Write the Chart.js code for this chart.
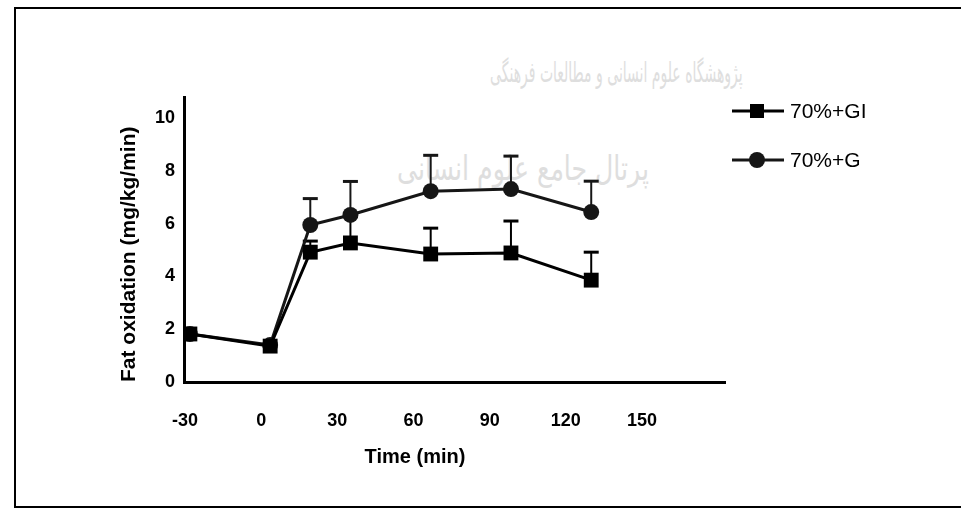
<!DOCTYPE html>
<html lang="en">
<head>
  <meta charset="UTF-8">
  <title>Fat oxidation - 70%+GI vs 70%+G</title>
  <script src="https://cdn.jsdelivr.net/npm/chart.js"></script>
  <style>
    body {
      margin: 0;
      background: #fff;
      font-family: "Liberation Sans", Arial, sans-serif;
    }
    .page {
      position: relative;
      width: 961px;
      height: 511px;
      overflow: hidden;
    }
    .frame {
      position: absolute;
      left: 14px;
      top: 7px;
      width: 960px;
      height: 497px;
      border-left: 2px solid #000;
      border-top: 2px solid #000;
      border-bottom: 2px solid #000;
    }
    .mark {
      position: absolute;
      font-family: "DejaVu Sans", sans-serif;
      color: #dedede;
      direction: rtl;
      white-space: nowrap;
      transform-origin: left top;
    }
    .xtitle {
      position: absolute;
      left: 315px;
      width: 200px;
      top: 445px;
      text-align: center;
      font-weight: bold;
      font-size: 20px;
      color: #000;
    }
    canvas {
      position: absolute;
      left: 0;
      top: 0;
    }
  </style>
</head>
<body>
  <div class="page">
    <div class="frame"></div>
    <div class="mark" style="left:490px; top:56px; font-size:28px; transform:scaleX(0.5);">پژوهشگاه علوم انسانی و مطالعات فرهنگی</div>
    <div class="mark" style="left:397px; top:148px; font-size:34px; transform:scaleX(0.74);">پرتال جامع علوم انسانی</div>
    <canvas id="fatChart" width="961" height="511"></canvas>
    <div class="xtitle">Time (min)</div>
  </div>

  <script>
    // values
    const timeMin = [-30, 0, 15, 30, 60, 90, 120];
    const giMean = [1.82, 1.36, 4.92, 5.27, 4.85, 4.89, 3.86];
    const giErr = [0, 0, 0.42, 1.0, 0.98, 1.21, 1.06];
    const gMean = [1.82, 1.40, 5.95, 6.33, 7.23, 7.31, 6.44];
    const gErr = [0, 0, 1.0, 1.27, 1.36, 1.25, 1.17];
    const xTicks = [-30, 0, 30, 60, 90, 120, 150];
    const yTicks = [0, 2, 4, 6, 8, 10];
    const seriesNames = ['70%+GI', '70%+G'];

    // upper error bars only, drawn under the markers
    const errorBars = {
      id: 'errorBars',
      beforeDatasetsDraw(chart) {
        const ctx = chart.ctx;
        const xs = chart.scales.x, ys = chart.scales.y;
        chart.data.datasets.forEach(ds => {
          if (!ds.errors) return;
          ctx.save();
          ctx.strokeStyle = ds.borderColor;
          ds.data.forEach((p, i) => {
            const e = ds.errors[i];
            if (!e) return;
            const px = xs.getPixelForValue(p.x);
            const py = ys.getPixelForValue(p.y);
            const top = ys.getPixelForValue(p.y + e);
            ctx.lineWidth = 2;
            ctx.beginPath();
            ctx.moveTo(px, py);
            ctx.lineTo(px, top);
            ctx.stroke();
            ctx.lineWidth = 3;
            ctx.beginPath();
            ctx.moveTo(px - 7.5, top);
            ctx.lineTo(px + 7.5, top);
            ctx.stroke();
          });
          ctx.restore();
        });
      }
    };

    // legend on the right: line through marker, then label
    const sideLegend = {
      id: 'sideLegend',
      afterDraw(chart) {
        const ctx = chart.ctx;
        const left = chart.chartArea.right + 7;
        chart.data.datasets.forEach((ds, i) => {
          const cy = 111 + i * 49;
          ctx.save();
          ctx.strokeStyle = ds.borderColor;
          ctx.fillStyle = ds.backgroundColor;
          ctx.lineWidth = 3;
          ctx.beginPath();
          ctx.moveTo(left, cy);
          ctx.lineTo(left + 52, cy);
          ctx.stroke();
          const mx = left + 25;
          if (ds.pointStyle === 'rect') {
            ctx.fillRect(mx - 7, cy - 7, 14, 14);
          } else {
            ctx.beginPath();
            ctx.arc(mx, cy, 8, 0, Math.PI * 2);
            ctx.fill();
          }
          ctx.fillStyle = '#000';
          ctx.font = '21px "Liberation Sans", Arial, sans-serif';
          ctx.textBaseline = 'middle';
          ctx.fillText(ds.label, left + 58, cy + 1);
          ctx.restore();
        });
      }
    };

    const ctx = document.getElementById('fatChart').getContext('2d');
    new Chart(ctx, {
      type: 'line',
      data: {
        datasets: [
          {
            label: seriesNames[0],
            data: timeMin.map((t, i) => ({ x: t, y: giMean[i] })),
            errors: giErr,
            borderColor: '#000',
            backgroundColor: '#000',
            pointStyle: 'rect',
            pointRadius: 10.5,
            pointBorderWidth: 0,
            borderWidth: 3,
            tension: 0
          },
          {
            label: seriesNames[1],
            data: timeMin.map((t, i) => ({ x: t, y: gMean[i] })),
            errors: gErr,
            borderColor: '#161616',
            backgroundColor: '#161616',
            pointStyle: 'circle',
            pointRadius: 8,
            pointBorderWidth: 0,
            borderWidth: 3,
            tension: 0
          }
        ]
      },
      options: {
        responsive: false,
        animation: false,
        layout: { padding: { left: 0, top: 97, right: 236, bottom: 0 } },
        plugins: {
          legend: { display: false },
          tooltip: { enabled: false }
        },
        scales: {
          x: {
            type: 'linear',
            min: -32.2,
            max: 170,
            display: false
          },
          xLab: {
            type: 'linear',
            position: 'bottom',
            min: -30.4,
            max: 182.7,
            afterBuildTicks: a => { a.ticks = xTicks.map(v => ({ value: v })); },
            afterFit: a => { a.height = 129; },
            grid: { display: false, drawTicks: false },
            border: { display: true, color: '#000', width: 3 },
            ticks: {
              color: '#000',
              padding: 28,
              maxRotation: 0,
              autoSkip: false,
              font: { family: '"Liberation Sans", Arial, sans-serif', size: 18, weight: 'bold' }
            }
          },
          y: {
            min: 0,
            max: 10.8,
            afterBuildTicks: a => { a.ticks = yTicks.map(v => ({ value: v })); },
            afterFit: a => { a.width = 184; },
            grid: { display: false, drawTicks: false },
            border: { display: true, color: '#000', width: 3 },
            ticks: {
              color: '#000',
              padding: 9,
              font: { family: '"Liberation Sans", Arial, sans-serif', size: 18, weight: 'bold' }
            },
            title: {
              display: true,
              text: 'Fat oxidation (mg/kg/min)',
              color: '#000',
              align: 'start',
              padding: { top: 117, bottom: 0 },
              font: { family: '"Liberation Sans", Arial, sans-serif', size: 21, weight: 'bold' }
            }
          }
        }
      },
      plugins: [errorBars, sideLegend]
    });
  </script>
</body>
</html>
